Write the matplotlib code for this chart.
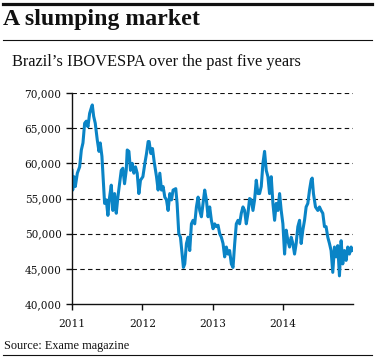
import matplotlib
matplotlib.use('Agg')
import matplotlib.pyplot as plt
from matplotlib.lines import Line2D
from matplotlib.ticker import FuncFormatter

# Index level (x in decimal years)
years = [
    2011.000, 2011.010, 2011.028, 2011.047, 2011.076, 2011.109, 2011.133, 2011.156,
    2011.180, 2011.204, 2011.227, 2011.251, 2011.275, 2011.289, 2011.308, 2011.331,
    2011.360, 2011.384, 2011.402, 2011.426, 2011.450, 2011.464, 2011.488, 2011.511,
    2011.535, 2011.559, 2011.582, 2011.606, 2011.630, 2011.653, 2011.677, 2011.701,
    2011.724, 2011.748, 2011.772, 2011.786, 2011.810, 2011.833, 2011.857, 2011.881,
    2011.904, 2011.928, 2011.952, 2011.975, 2012.009, 2012.037, 2012.061, 2012.084,
    2012.098, 2012.122, 2012.146, 2012.170, 2012.203, 2012.226, 2012.250, 2012.274,
    2012.297, 2012.321, 2012.345, 2012.368, 2012.392, 2012.416, 2012.439, 2012.477,
    2012.496, 2012.520, 2012.544, 2012.567, 2012.586, 2012.605, 2012.629, 2012.653,
    2012.676, 2012.700, 2012.723, 2012.747, 2012.771, 2012.795, 2012.818, 2012.842,
    2012.866, 2012.889, 2012.913, 2012.937, 2012.960, 2012.984, 2013.008, 2013.031,
    2013.055, 2013.079, 2013.102, 2013.126, 2013.150, 2013.173, 2013.197, 2013.221,
    2013.244, 2013.268, 2013.292, 2013.316, 2013.339, 2013.363, 2013.386, 2013.410,
    2013.434, 2013.457, 2013.481, 2013.505, 2013.528, 2013.552, 2013.576, 2013.599,
    2013.623, 2013.647, 2013.670, 2013.694, 2013.718, 2013.741, 2013.765, 2013.789,
    2013.812, 2013.836, 2013.860, 2013.884, 2013.907, 2013.931, 2013.955, 2013.978,
    2014.002, 2014.026, 2014.049, 2014.073, 2014.097, 2014.120, 2014.144, 2014.168,
    2014.191, 2014.215, 2014.239, 2014.262, 2014.286, 2014.310, 2014.333, 2014.357,
    2014.381, 2014.404, 2014.419, 2014.437, 2014.466, 2014.499, 2014.523, 2014.546,
    2014.570, 2014.594, 2014.617, 2014.641, 2014.665, 2014.688, 2014.712, 2014.736,
    2014.759, 2014.783, 2014.807, 2014.831, 2014.854, 2014.878, 2014.902, 2014.925,
    2014.949, 2014.973, 2014.987,
]
ibovespa = [
    59000, 56200, 58100, 56700, 58600, 59500, 61900, 62900,
    65700, 66000, 65200, 67100, 67900, 68300, 66700, 65700,
    63300, 61700, 62900, 61000, 56700, 54300, 54800, 52600,
    55200, 56900, 53300, 55700, 52900, 55200, 57100, 59000,
    59300, 57100, 59000, 61900, 61700, 59000, 60000, 58600,
    59500, 58600, 55700, 57600, 58100, 60000, 61400, 63100,
    63100, 61400, 62100, 60200, 58100, 56200, 58600, 56200,
    56700, 55200, 54800, 53300, 55700, 54800, 56200, 56400,
    54300, 50000, 49500, 47100, 45200, 45700, 48600, 49500,
    47600, 51400, 51900, 51400, 53800, 55200, 53300, 52400,
    54300, 56200, 54800, 52400, 53800, 51900, 50700, 51400,
    51000, 51200, 50000, 49500, 48600, 46700, 48100, 47100,
    47600, 45700, 45200, 48600, 51400, 51900, 51400, 52900,
    53800, 53300, 51400, 52900, 55000, 54800, 53300, 54800,
    57600, 55700, 55700, 56700, 60000, 61700, 59000, 58100,
    55700, 58100, 54300, 51900, 54300, 53300, 55700, 53300,
    51400, 47100, 50500, 49000, 48100, 49500, 48600, 47100,
    48600, 51000, 51900, 48600, 50500, 51900, 53800, 54300,
    56200, 57600, 57900, 55700, 53800, 53300, 53800, 53300,
    52900, 51000, 51000, 49500, 48600, 47600, 44500, 48100,
    46700, 48300, 44000, 49000, 45700, 47600, 46200, 48100,
    47100, 48100, 47600,
]
year_ticks = [2011, 2012, 2013, 2014]
value_ticks = [40000, 45000, 50000, 55000, 60000, 65000, 70000]

title = 'A slumping market'
subtitle = 'Brazil\u2019s IBOVESPA over the past five years'
source = 'Source: Exame magazine'

W, H = 376, 360
fig = plt.figure(figsize=(W / 100, H / 100), dpi=100)


def fx(px):
    return px / W


def fy(py):
    return 1 - py / H


# rules at top, under the title and at the bottom
fig.add_artist(Line2D([fx(3), fx(372)], [fy(4), fy(4)], color='#111111', lw=2.3,
                      transform=fig.transFigure))
fig.add_artist(Line2D([fx(3), fx(372)], [fy(40), fy(40)], color='#111111', lw=0.8,
                      transform=fig.transFigure))
fig.add_artist(Line2D([fx(3), fx(372)], [fy(355), fy(355)], color='#111111', lw=0.8,
                      transform=fig.transFigure))

fig.text(fx(3), fy(25), title, family='Liberation Serif', weight='bold',
         fontsize=17.2, va='baseline', ha='left', color='#111111')
fig.text(fx(12), fy(66), subtitle, family='Liberation Serif',
         fontsize=11.8, va='baseline', ha='left', color='#111111')
fig.text(fx(4), fy(349.5), source, family='Liberation Serif',
         fontsize=8.8, va='baseline', ha='left', color='#111111')

ax = fig.add_axes([fx(72), fy(304), fx(353) - fx(72), fy(93) - fy(304)])
ax.plot(years, ibovespa, color='#0a84c6', lw=2.2, solid_joinstyle='round')

ax.set_xlim(2011, 2015)
ax.set_ylim(40000, 70000)
ax.set_xticks(year_ticks)
ax.set_xticklabels([str(y) for y in year_ticks])
ax.set_yticks(value_ticks)
ax.yaxis.set_major_formatter(FuncFormatter(lambda v, p: '{:,.0f}'.format(v)))

for v in value_ticks[1:]:
    ax.axhline(v, color='#111111', lw=0.8, ls=(0, (4, 3)), zorder=0)

for side in ['top', 'right']:
    ax.spines[side].set_visible(False)
for side in ['left', 'bottom']:
    ax.spines[side].set_color('#111111')
    ax.spines[side].set_linewidth(1.0)

ax.tick_params(axis='both', direction='out', length=4, width=1.0, color='#111111',
               labelsize=7.6, labelcolor='#111111')
ax.tick_params(axis='y', pad=3.5)
ax.tick_params(axis='x', pad=7)
for lab in ax.get_xticklabels() + ax.get_yticklabels():
    lab.set_family('DejaVu Serif')

fig.savefig('out.png', dpi=100)
